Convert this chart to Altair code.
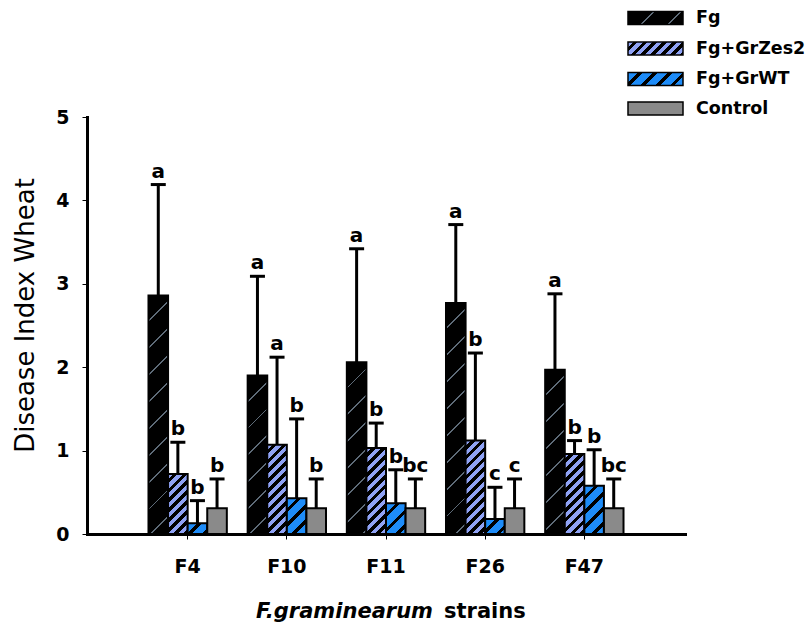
import math
import altair as alt

# ---- data -------------------------------------------------------------
strains = ["F4", "F10", "F11", "F26", "F47"]
treatments = ["Fg", "Fg+GrZes2", "Fg+GrWT", "Control"]

fg_mean = [2.86, 1.90, 2.06, 2.77, 1.97]
fg_sd = [1.33, 1.19, 1.36, 0.94, 0.91]
zes2_mean = [0.72, 1.07, 1.03, 1.12, 0.96]
zes2_sd = [0.38, 1.05, 0.30, 1.05, 0.16]
wt_mean = [0.13, 0.43, 0.37, 0.18, 0.58]
wt_sd = [0.27, 0.95, 0.40, 0.38, 0.43]
ctrl_mean = [0.31, 0.31, 0.31, 0.31, 0.31]
ctrl_sd = [0.35, 0.35, 0.35, 0.35, 0.35]

fg_letters = ["a", "a", "a", "a", "a"]
zes2_letters = ["b", "a", "b", "b", "b"]
wt_letters = ["b", "b", "b", "c", "b"]
ctrl_letters = ["b", "b", "bc", "c", "bc"]

# ---- layout -----------------------------------------------------------
FONT = "DejaVu Sans"
W, H = 598, 417
Y_MAX = 5
PAD_INNER, PAD_OUTER = 0.21, 0.62
STEP = W / (len(strains) - PAD_INNER + 2 * PAD_OUTER)
BAR_W = STEP * (1 - PAD_INNER) / len(treatments)
PX_PER_UNIT = H / Y_MAX

# hatch styles: base colour, stripe colour, stripe period (px), stripe share
HATCH = {
    "Fg": dict(base="#000000", line="#5e6b78", period=19, frac=0.07),
    "Fg+GrZes2": dict(base="#8fa2f4", line="#000000", period=7, frac=0.48),
    "Fg+GrWT": dict(base="#1e8cf8", line="#000000", period=10.5, frac=0.32),
    "Control": dict(base="#8a8a8a"),
}


def hatch_fill(style, w, h):
    """Diagonal '/' stripes as a linear gradient in bounding-box units."""
    base = style["base"]
    if "line" not in style:
        return base
    line, frac = style["line"], style["frac"]
    span = w + h
    p = style["period"] * math.sqrt(2) / span
    stops = [{"offset": 0, "color": base}]
    k = 0
    while k * p < 1:
        a = min(1.0, k * p + (1 - frac) * p)
        b = min(1.0, (k + 1) * p)
        if a < 1:
            stops += [
                {"offset": round(a, 4), "color": base},
                {"offset": round(a, 4), "color": line},
                {"offset": round(b, 4), "color": line},
                {"offset": round(b, 4), "color": base},
            ]
        k += 1
    c = span / (w * w + h * h)
    return {"gradient": "linear", "x1": 0, "y1": 0,
            "x2": round(c * w, 5), "y2": round(c * h, 5), "stops": stops}


series = {
    "Fg": (fg_mean, fg_sd, fg_letters),
    "Fg+GrZes2": (zes2_mean, zes2_sd, zes2_letters),
    "Fg+GrWT": (wt_mean, wt_sd, wt_letters),
    "Control": (ctrl_mean, ctrl_sd, ctrl_letters),
}

rows = []
for t in treatments:
    means, sds, letters = series[t]
    for s, m, sd, let in zip(strains, means, sds, letters):
        rows.append({
            "strain": s, "treatment": t, "mean": m, "upper": round(m + sd, 3),
            "letter": let,
            "pattern": hatch_fill(HATCH[t], BAR_W, m * PX_PER_UNIT),
        })

base = alt.Chart(alt.Data(values=rows)).encode(
    x=alt.X("strain:N", sort=strains, title=None,
            scale=alt.Scale(paddingInner=PAD_INNER, paddingOuter=PAD_OUTER),
            axis=alt.Axis(labelAngle=0, labelFont=FONT, labelFontSize=19,
                          labelFontWeight="bold", labelColor="black",
                          tickSize=5, tickWidth=1, tickColor="black",
                          labelPadding=18, domainColor="black", domainWidth=3,
                          domainCap="square")),
    xOffset=alt.XOffset("treatment:N", sort=treatments,
                        scale=alt.Scale(paddingInner=0, paddingOuter=0)),
)

y_scale = alt.Scale(domain=[0, Y_MAX], nice=False, zero=True)
y_axis = alt.Axis(values=[0, 1, 2, 3, 4, 5], title=None, grid=False,
                  labelFont=FONT, labelFontSize=19, labelFontWeight="bold",
                  labelColor="black", tickSize=5, tickWidth=1,
                  tickColor="black", labelPadding=13, domainColor="black",
                  domainWidth=3, domainCap="square")

bars = base.mark_bar(stroke="black", strokeWidth=2).encode(
    y=alt.Y("mean:Q", scale=y_scale, axis=y_axis),
    fill=alt.Fill("pattern:N", scale=None, legend=None),
)
err = base.mark_rule(color="black", strokeWidth=3).encode(
    y=alt.Y("mean:Q", scale=y_scale, axis=y_axis), y2="upper:Q")
caps = base.mark_tick(color="black", thickness=3, size=15, opacity=1).encode(
    y=alt.Y("upper:Q", scale=y_scale, axis=y_axis))
letters = base.mark_text(dy=-7, baseline="alphabetic", font=FONT,
                         fontSize=20, fontWeight="bold", color="black").encode(
    y=alt.Y("upper:Q", scale=y_scale, axis=y_axis), text="letter:N")

# ---- legend -----------------------------------------------------------
LEG_X0, LEG_X1, LEG_TX = 541, 596, 609
LEG_Y = [-99, -68.5, -38, -8.5]
SW_H = 13
legend_layers = []
for name, cy in zip(treatments, LEG_Y):
    one = alt.Chart(alt.Data(values=[{"label": name}]))
    legend_layers.append(
        one.mark_rect(stroke="black", strokeWidth=1.5).encode(
            x=alt.value(LEG_X0), x2=alt.value(LEG_X1),
            y=alt.value(cy - SW_H / 2), y2=alt.value(cy + SW_H / 2),
            fill=alt.value(hatch_fill(HATCH[name], LEG_X1 - LEG_X0, SW_H)),
        )
    )
    legend_layers.append(
        one.mark_text(align="left", baseline="middle", font=FONT,
                      fontSize=17.5, fontWeight="bold", color="black").encode(
            x=alt.value(LEG_TX), y=alt.value(cy), text="label:N")
    )

# ---- axis titles ------------------------------------------------------
title_src = alt.Chart(alt.Data(values=[{"a": 1}]))
y_title = title_src.mark_text(angle=270, align="center", baseline="middle",
                              font=FONT, fontSize=26, color="black").encode(
    x=alt.value(-61), y=alt.value(H / 2 - 10),
    text=alt.value("Disease Index Wheat"))
x_title_a = title_src.mark_text(align="right", baseline="alphabetic", font=FONT,
                                fontSize=21, fontWeight="bold", fontStyle="italic",
                                color="black").encode(
    x=alt.value(346), y=alt.value(501), text=alt.value("F.graminearum"))
x_title_b = title_src.mark_text(align="left", baseline="alphabetic", font=FONT,
                                fontSize=21, fontWeight="bold", color="black").encode(
    x=alt.value(357), y=alt.value(501), text=alt.value("strains"))

chart = alt.layer(
    bars, err, caps, letters, *legend_layers, y_title, x_title_a, x_title_b
).properties(
    width=W, height=H,
    autosize=alt.AutoSizeParams(type="none"),
    padding={"left": 87, "top": 117, "right": 810 - 87 - W, "bottom": 626 - 117 - H},
    background="white",
).configure_view(stroke=None)

chart.save("out.html", embed_options={"renderer": "svg", "actions": False})
